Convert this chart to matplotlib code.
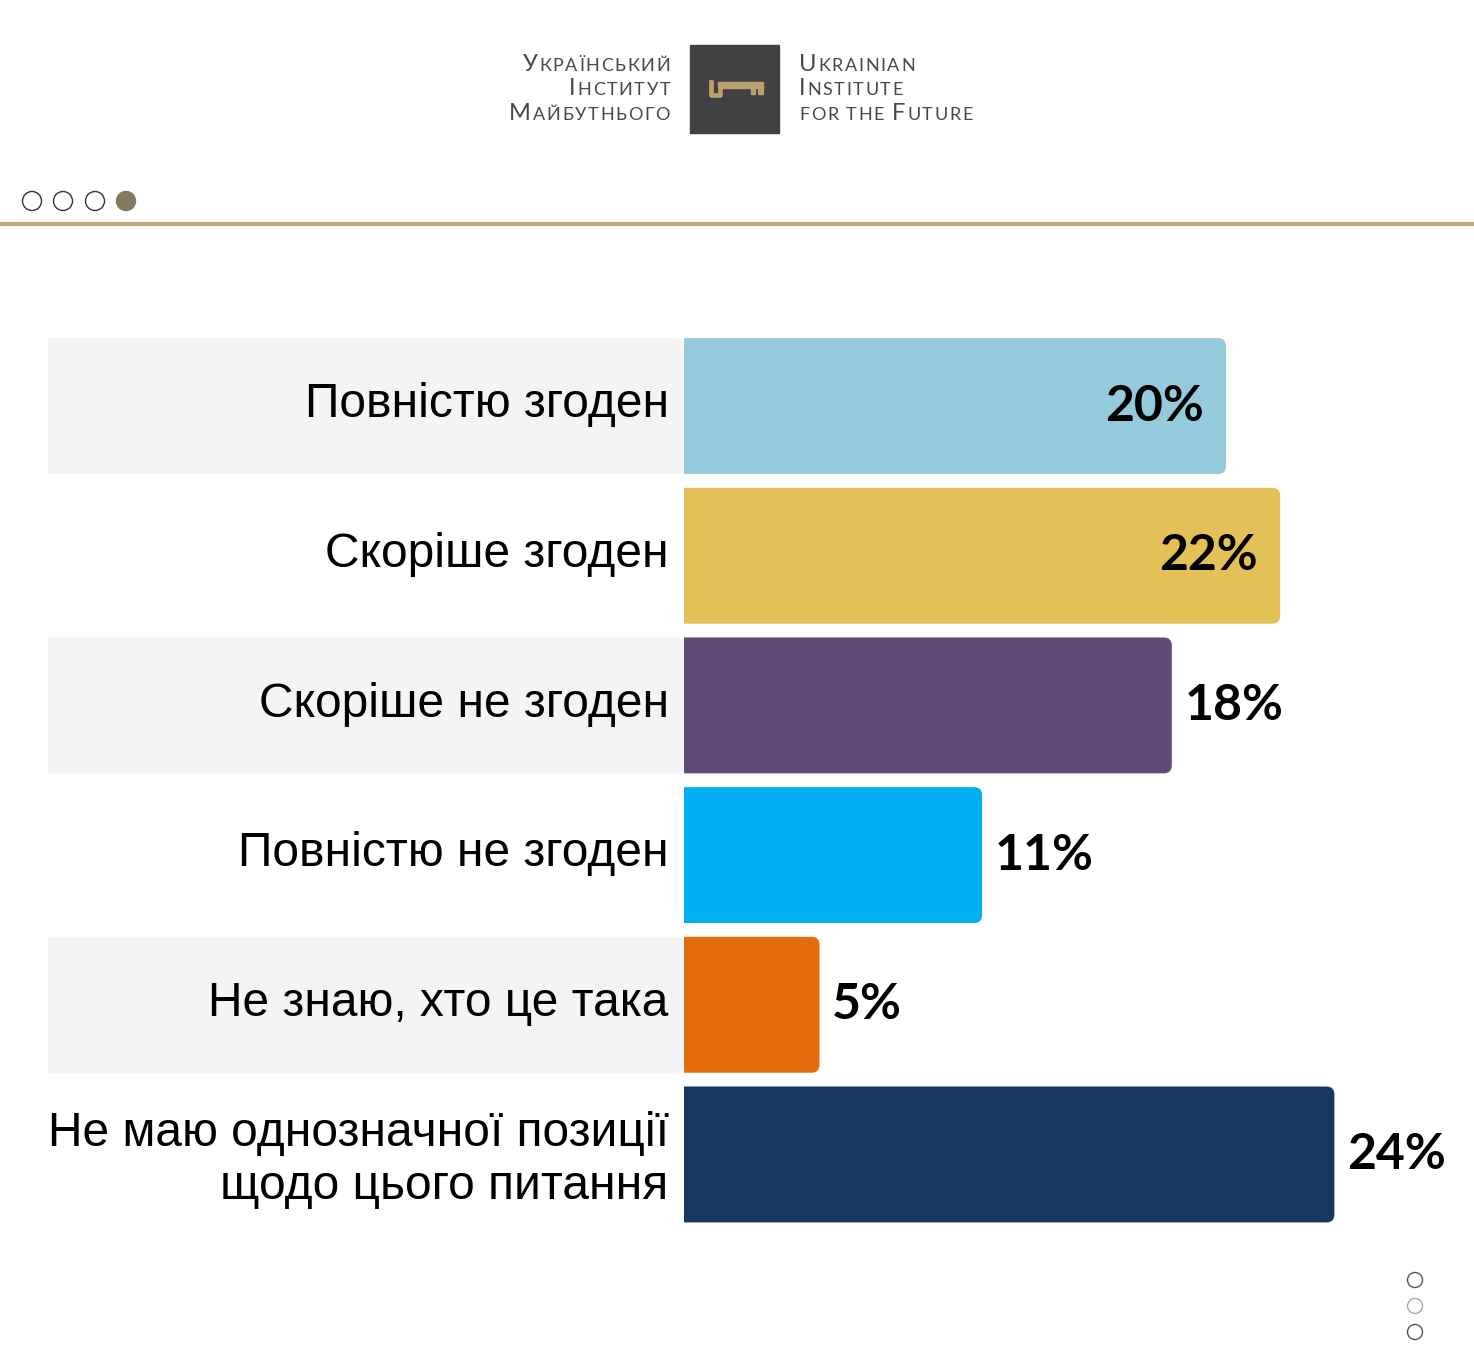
import matplotlib.pyplot as plt
from matplotlib.patches import FancyBboxPatch, Rectangle, Circle
from matplotlib.offsetbox import TextArea, HPacker, AnnotationBbox

# --- data ---
categories = [
    'Повністю згоден',
    'Скоріше згоден',
    'Скоріше не згоден',
    'Повністю не згоден',
    'Не знаю, хто це така',
    'Не маю однозначної позиції\nщодо цього питання',
]
values = [20, 22, 18, 11, 5, 24]
colors = ['#94cadc', '#e3c158', '#604a78', '#00b0f0', '#e36c0c', '#17375e']
label_inside = [True, True, False, False, False, False]
shaded_rows = [0, 2, 4]

logo_ua = [[('У', 1), ('КРАЇНСЬКИЙ', 0)],
           [('І', 1), ('НСТИТУТ', 0)],
           [('М', 1), ('АЙБУТНЬОГО', 0)]]
logo_en = [[('U', 1), ('KRAINIAN', 0)],
           [('I', 1), ('NSTITUTE', 0)],
           [('FOR THE ', 0), ('F', 1), ('UTURE', 0)]]

W, H = 1474, 1368
PX_PER_PCT = 27.1
fig = plt.figure(figsize=(W / 100, H / 100), dpi=100)
fig.patch.set_facecolor('white')

# background axes in pixel coords for decorations
bg = fig.add_axes([0, 0, 1, 1])
bg.set_xlim(0, W)
bg.set_ylim(H, 0)
bg.axis('off')

# logo
bg.add_patch(Rectangle((690, 45), 89, 88, color='#414042'))
gold = '#b9a06c'
bg.plot([711, 711, 720, 720], [82, 95, 95, 84], color=gold, lw=3.4, solid_joinstyle='round')
bg.add_patch(Rectangle((718, 82), 45, 5.5, color=gold))
bg.add_patch(Rectangle((751, 86), 4, 8, color=gold))
bg.add_patch(Rectangle((758, 86), 5, 8, color=gold))

baselines = [71, 95, 120]


def logo_line(parts, x, y, align):
    # small caps with a bit of letter spacing: one TextArea per character
    kids = []
    for txt, big in parts:
        for ch in txt:
            kids.append(TextArea(ch, textprops=dict(fontsize=17 if big else 13, color='#484848',
                                                    family='Lato')))
    pack = HPacker(children=kids, align='baseline', pad=0, sep=1.2)
    ab = AnnotationBbox(pack, (x, y), xycoords='data', box_alignment=(align, 0.2),
                        frameon=False, pad=0)
    bg.add_artist(ab)


for parts, y in zip(logo_ua, baselines):
    logo_line(parts, 670, y, 1)
for parts, y in zip(logo_en, baselines):
    logo_line(parts, 799, y, 0)

# nav dots and gold rule
for i, cx in enumerate([32, 63, 95, 126]):
    filled = i == 3
    bg.add_patch(Circle((cx, 201), 9.5, facecolor='#857760' if filled else 'white',
                        edgecolor='#857760' if filled else '#333333', lw=1))
bg.plot([0, W], [223.5, 223.5], color='#c4a97b', lw=3)
for cy, ec in zip([1280, 1306, 1332], ['#555555', '#aaaaaa', '#555555']):
    bg.add_patch(Circle((1415, cy), 7.5, facecolor='white', edgecolor=ec, lw=1))

# bar axes
top, bottom = 331.2, 1229.3
left = 684
ax = fig.add_axes([left / W, 1 - bottom / H, (W - left) / W, (bottom - top) / H])
ax.set_xlim(0, (W - left) / PX_PER_PCT)
ax.set_ylim(len(values) - 0.5, -0.5)
ax.axis('off')

pitch = (bottom - top) / len(values)
aspect = PX_PER_PCT / pitch
rs = 8 / PX_PER_PCT
bar_h = 0.908

bars = ax.barh(range(len(values)), values, height=bar_h, color=colors)
for b, c in zip(bars, colors):
    x0, y0, w, h = b.get_x(), b.get_y(), b.get_width(), b.get_height()
    b.set_visible(False)
    ax.add_patch(FancyBboxPatch((x0 - 1, y0), w + 1, h,
                                boxstyle=f'round,pad=0,rounding_size={rs}',
                                mutation_aspect=aspect, facecolor=c, edgecolor='none'))

# shaded label rows
gray_left = (48 - left) / PX_PER_PCT
for i in shaded_rows:
    y0 = i - bar_h / 2
    ax.add_patch(FancyBboxPatch((gray_left + 2, y0), -gray_left - 2.0, bar_h,
                                boxstyle=f'round,pad=0,rounding_size={rs}',
                                mutation_aspect=aspect, facecolor='#f4f4f4',
                                edgecolor='none', clip_on=False, zorder=0))
    ax.add_patch(Rectangle((gray_left, y0), 4, bar_h, facecolor='#f4f4f4',
                           edgecolor='none', clip_on=False, zorder=0))

# category labels
for i, cat in enumerate(categories):
    dy = -4 if '\n' in cat else 1
    ax.annotate(cat, xy=(0, i), xytext=(-11, dy), textcoords='offset points',
                ha='right', va='center', fontsize=34.5, family='Liberation Sans',
                color='black', linespacing=1.22, annotation_clip=False)

# value labels
for i, (v, inside) in enumerate(zip(values, label_inside)):
    if inside:
        ax.annotate(f'{v}%', xy=(v, i), xytext=(-16, 0), textcoords='offset points',
                    ha='right', va='center', fontsize=36, fontweight='bold',
                    family='Lato', color='black')
    else:
        ax.annotate(f'{v}%', xy=(v, i), xytext=(9, 0), textcoords='offset points',
                    ha='left', va='center', fontsize=36, fontweight='bold',
                    family='Lato', color='black', annotation_clip=False)

fig.savefig('out.png', dpi=100, facecolor='white')
